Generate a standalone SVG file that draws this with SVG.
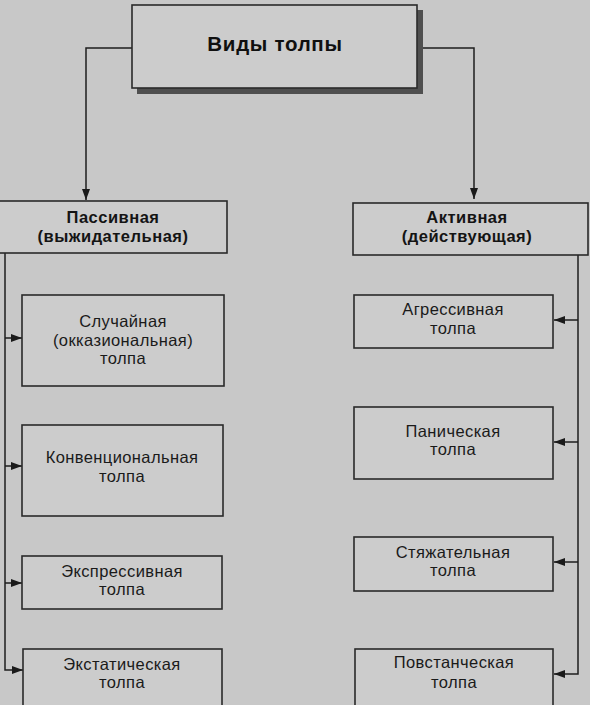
<svg xmlns="http://www.w3.org/2000/svg" width="590" height="705" viewBox="0 0 590 705">
<style>
.bg{fill:#c8c8c8}
.box{fill:#cccccc;stroke:#2a2a2a;stroke-width:1.6}
.shadow{fill:#4f4f4f}
.con{fill:none;stroke:#1e1e1e;stroke-width:1.5}
.t{font-family:"Liberation Sans",Arial,sans-serif;font-size:16.5px;fill:#1a1a1a;text-anchor:middle;letter-spacing:0.4px}
.b{font-family:"Liberation Sans",Arial,sans-serif;font-weight:bold;font-size:16.5px;fill:#141414;text-anchor:middle;letter-spacing:0.5px}
.h{font-family:"Liberation Sans",Arial,sans-serif;font-weight:bold;font-size:20.5px;fill:#101010;text-anchor:middle;letter-spacing:0.7px}
</style>
<defs>
<marker id="arr" markerUnits="userSpaceOnUse" markerWidth="11" markerHeight="8" refX="11" refY="4" orient="auto">
<path d="M0,0 L11,4 L0,8 z" fill="#1a1a1a"/>
</marker>
</defs>
<rect class="bg" x="0" y="0" width="590" height="705"/>
<g id="connectors">
<path class="con" d="M132,48 H86 V200" marker-end="url(#arr)"/>
<path class="con" d="M417,48 H474 V199" marker-end="url(#arr)"/>
<path class="con" d="M5,253 V670 H23" marker-end="url(#arr)"/>
<path class="con" d="M5,338 H22" marker-end="url(#arr)"/>
<path class="con" d="M5,466 H22" marker-end="url(#arr)"/>
<path class="con" d="M5,583 H22" marker-end="url(#arr)"/>
<path class="con" d="M578,255 V674 H554" marker-end="url(#arr)"/>
<path class="con" d="M578,320 H554" marker-end="url(#arr)"/>
<path class="con" d="M578,442 H554" marker-end="url(#arr)"/>
<path class="con" d="M578,562 H554" marker-end="url(#arr)"/>
</g>
<g id="root">
<rect class="shadow" x="137" y="10" width="286" height="84"/>
<rect class="box" x="132" y="5" width="285" height="83"/>
<text class="h" x="275" y="51">Виды толпы</text>
</g>
<g id="passive">
<rect class="box" x="-1" y="201" width="228" height="52"/>
<text class="b" x="113" y="223">Пассивная</text>
<text class="b" x="113" y="242">(выжидательная)</text>
</g>
<g id="active">
<rect class="box" x="353" y="203" width="235" height="52"/>
<text class="b" x="467" y="223">Активная</text>
<text class="b" x="467" y="242">(действующая)</text>
</g>
<g id="sluchaynaya">
<rect class="box" x="22" y="295" width="202" height="91"/>
<text class="t" x="123" y="327">Случайная</text>
<text class="t" x="123" y="346">(окказиональная)</text>
<text class="t" x="123" y="364">толпа</text>
</g>
<g id="konventsionalnaya">
<rect class="box" x="22" y="425" width="201" height="91"/>
<text class="t" x="122" y="463">Конвенциональная</text>
<text class="t" x="122" y="482">толпа</text>
</g>
<g id="ekspressivnaya">
<rect class="box" x="22" y="556" width="200" height="53"/>
<text class="t" x="122" y="577">Экспрессивная</text>
<text class="t" x="122" y="595">толпа</text>
</g>
<g id="ekstaticheskaya">
<rect class="box" x="23" y="649" width="199" height="60"/>
<text class="t" x="122" y="670">Экстатическая</text>
<text class="t" x="122" y="688">толпа</text>
</g>
<g id="agressivnaya">
<rect class="box" x="354" y="295" width="199" height="53"/>
<text class="t" x="453" y="315">Агрессивная</text>
<text class="t" x="453" y="334">толпа</text>
</g>
<g id="panicheskaya">
<rect class="box" x="354" y="407" width="199" height="72"/>
<text class="t" x="453" y="437">Паническая</text>
<text class="t" x="453" y="455">толпа</text>
</g>
<g id="styazhatelnaya">
<rect class="box" x="354" y="537" width="199" height="54"/>
<text class="t" x="453" y="558">Стяжательная</text>
<text class="t" x="453" y="576">толпа</text>
</g>
<g id="povstancheskaya">
<rect class="box" x="355" y="649" width="198" height="60"/>
<text class="t" x="454" y="668">Повстанческая</text>
<text class="t" x="454" y="688">толпа</text>
</g>
</svg>
